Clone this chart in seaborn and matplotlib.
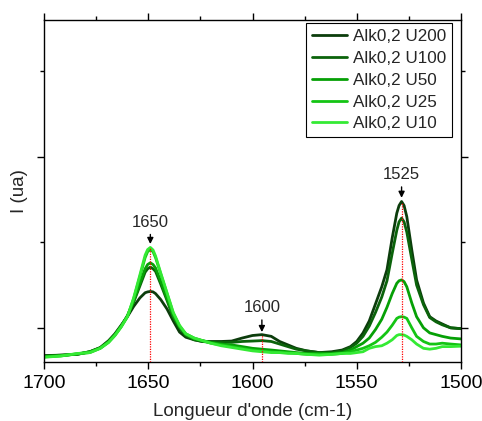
import matplotlib
matplotlib.use("Agg")
import matplotlib.pyplot as plt
from matplotlib.ticker import MultipleLocator, NullFormatter
import pandas as pd
import seaborn as sns


WAVENUMBER = [
	1700, 1692, 1684, 1678, 1673, 1669, 1666, 1663, 1660, 1657,
	1654, 1651.5, 1650.3, 1649, 1647.7, 1646.5, 1644, 1641, 1638, 1635,
	1632, 1628, 1624, 1620, 1615, 1610, 1605, 1600, 1595.5, 1591,
	1587, 1583, 1579, 1574, 1568, 1562, 1557, 1553, 1550, 1547,
	1544, 1541, 1538, 1535.5, 1533, 1530.8, 1529.7, 1528.5, 1527.3, 1526,
	1523.6, 1521.3, 1518, 1515, 1512, 1509, 1505, 1500,
]

U200 = [
	-0.325, -0.32, -0.31, -0.28, -0.23, -0.15, -0.07, 0.03, 0.13, 0.25,
	0.35, 0.41, 0.42, 0.425, 0.42, 0.40, 0.33, 0.22, 0.08, -0.05,
	-0.11, -0.14, -0.16, -0.16, -0.16, -0.155, -0.12, -0.09, -0.08, -0.10,
	-0.16, -0.20, -0.24, -0.27, -0.29, -0.28, -0.26, -0.22, -0.16, -0.06,
	0.08, 0.28, 0.48, 0.68, 1.05, 1.34, 1.43, 1.477, 1.43, 1.30,
	0.91, 0.56, 0.29, 0.13, 0.08, 0.045, 0.0, -0.01,
]
U100 = [
	-0.33, -0.32, -0.31, -0.28, -0.235, -0.16, -0.08, 0.02, 0.14, 0.30,
	0.49, 0.65, 0.69, 0.71, 0.69, 0.66, 0.51, 0.32, 0.12, 0.0,
	-0.09, -0.14, -0.16, -0.17, -0.17, -0.17, -0.16, -0.155, -0.15, -0.16,
	-0.19, -0.22, -0.25, -0.27, -0.29, -0.29, -0.27, -0.23, -0.18, -0.10,
	0.02, 0.18, 0.36, 0.55, 0.87, 1.14, 1.24, 1.283, 1.24, 1.12,
	0.80, 0.50, 0.27, 0.12, 0.07, 0.035, 0.0, -0.01,
]
U50 = [
	-0.335, -0.325, -0.305, -0.28, -0.235, -0.16, -0.08, 0.02, 0.14, 0.31,
	0.52, 0.69, 0.74, 0.76, 0.74, 0.70, 0.54, 0.34, 0.14, 0.01,
	-0.08, -0.13, -0.15, -0.17, -0.19, -0.20, -0.22, -0.24, -0.25, -0.26,
	-0.27, -0.28, -0.29, -0.30, -0.30, -0.30, -0.29, -0.26, -0.22, -0.18,
	-0.12, -0.02, 0.10, 0.24, 0.40, 0.52, 0.55, 0.56, 0.54, 0.48,
	0.29, 0.13, 0.0, -0.06, -0.08, -0.10, -0.12, -0.13,
]
U25 = [
	-0.34, -0.33, -0.305, -0.29, -0.24, -0.17, -0.09, 0.01, 0.13, 0.34,
	0.60, 0.82, 0.89, 0.915, 0.89, 0.82, 0.63, 0.40, 0.17, 0.02,
	-0.07, -0.12, -0.15, -0.18, -0.20, -0.22, -0.24, -0.26, -0.27, -0.28,
	-0.29, -0.29, -0.30, -0.31, -0.31, -0.31, -0.30, -0.28, -0.26, -0.24,
	-0.21, -0.17, -0.11, -0.05, 0.03, 0.11, 0.125, 0.13, 0.125, 0.11,
	0.0, -0.10, -0.16, -0.19, -0.19, -0.18, -0.19, -0.20,
]
U10 = [
	-0.345, -0.33, -0.30, -0.29, -0.24, -0.17, -0.09, 0.01, 0.13, 0.35,
	0.62, 0.85, 0.915, 0.94, 0.91, 0.84, 0.64, 0.41, 0.18, 0.03,
	-0.07, -0.12, -0.15, -0.18, -0.21, -0.23, -0.25, -0.27, -0.28, -0.29,
	-0.29, -0.30, -0.30, -0.31, -0.32, -0.31, -0.30, -0.30, -0.29, -0.28,
	-0.24, -0.22, -0.21, -0.18, -0.14, -0.09, -0.08, -0.08, -0.085, -0.10,
	-0.14, -0.19, -0.24, -0.25, -0.24, -0.22, -0.22, -0.215,
]

SERIES_NAMES = ["Alk0,2 U200", "Alk0,2 U100", "Alk0,2 U50", "Alk0,2 U25", "Alk0,2 U10"]
SERIES_VALUES = [U200, U100, U50, U25, U10]
SERIES_COLORS = ["#0c3d0c", "#0b630b", "#06a006", "#14c414", "#34ea34"]

PEAK_LABELS = ["1650", "1600", "1525"]
PEAK_X = [1649, 1595.5, 1528.5]
PEAK_TOP = [0.94, -0.08, 1.477]
ARROW_TIP = [0.98, -0.05, 1.52]
LABEL_Y = [1.234, 0.234, 1.79]


rows = []
for name, values in zip(SERIES_NAMES, SERIES_VALUES):
	for wn, val in zip(WAVENUMBER, values):
		rows.append({"wavenumber": wn, "intensity": val, "sample": name})
df = pd.DataFrame(rows)

sns.set_theme(style="ticks")
plt.rcParams["font.family"] = ["Liberation Sans", "DejaVu Sans"]

fig = plt.figure(figsize=(4.82, 4.21), dpi=100)
ax = fig.add_axes([44 / 482, 59 / 421, 417 / 482, 342 / 421])

sns.lineplot(
	data=df,
	x="wavenumber",
	y="intensity",
	hue="sample",
	hue_order=SERIES_NAMES,
	palette=dict(zip(SERIES_NAMES, SERIES_COLORS)),
	linewidth=2.0,
	errorbar=None,
	ax=ax,
)

ax.vlines(PEAK_X, -0.4, PEAK_TOP, colors="red", linestyles=(0, (1, 1)), linewidth=0.9, zorder=5)
for label, x, tip, ty in zip(PEAK_LABELS, PEAK_X, ARROW_TIP, LABEL_Y):
	ax.annotate(
		label,
		xy=(x, tip),
		xytext=(x, ty),
		ha="center",
		va="center",
		fontsize=12,
		arrowprops=dict(arrowstyle="-|>", color="black", lw=1, shrinkA=1, shrinkB=0, mutation_scale=9),
	)

ax.set_xlim(1700, 1500)
ax.set_ylim(-0.4, 3.6)
ax.xaxis.set_major_locator(MultipleLocator(50))
ax.xaxis.set_minor_locator(MultipleLocator(25))
ax.yaxis.set_major_locator(MultipleLocator(2))
ax.yaxis.set_minor_locator(MultipleLocator(1))
ax.yaxis.set_major_formatter(NullFormatter())
ax.tick_params(which="both", direction="out", top=True, right=True, colors="black", width=1)
ax.tick_params(which="major", length=5, labelsize=14, pad=4)
ax.tick_params(which="minor", length=3)
ax.tick_params(axis="x", labeltop=False)
for spine in ax.spines.values():
	spine.set_visible(True)
	spine.set_color("black")
	spine.set_linewidth(1)

ax.set_xlabel("Longueur d'onde (cm-1)", fontsize=13.5, labelpad=8)
ax.set_ylabel("I (ua)", fontsize=13.5)
ax.yaxis.set_label_coords(-0.038, 0.5)

handles, labels = ax.get_legend_handles_labels()
ax.legend(
	handles,
	labels,
	loc="upper right",
	bbox_to_anchor=(0.978, 0.991),
	borderaxespad=0,
	fontsize=12.3,
	frameon=True,
	fancybox=False,
	edgecolor="black",
	framealpha=1,
	labelspacing=0.4,
	handlelength=2.0,
	handletextpad=0.35,
	borderpad=0.35,
)
ax.get_legend().get_frame().set_linewidth(0.8)

fig.savefig("out.png", dpi=100)
